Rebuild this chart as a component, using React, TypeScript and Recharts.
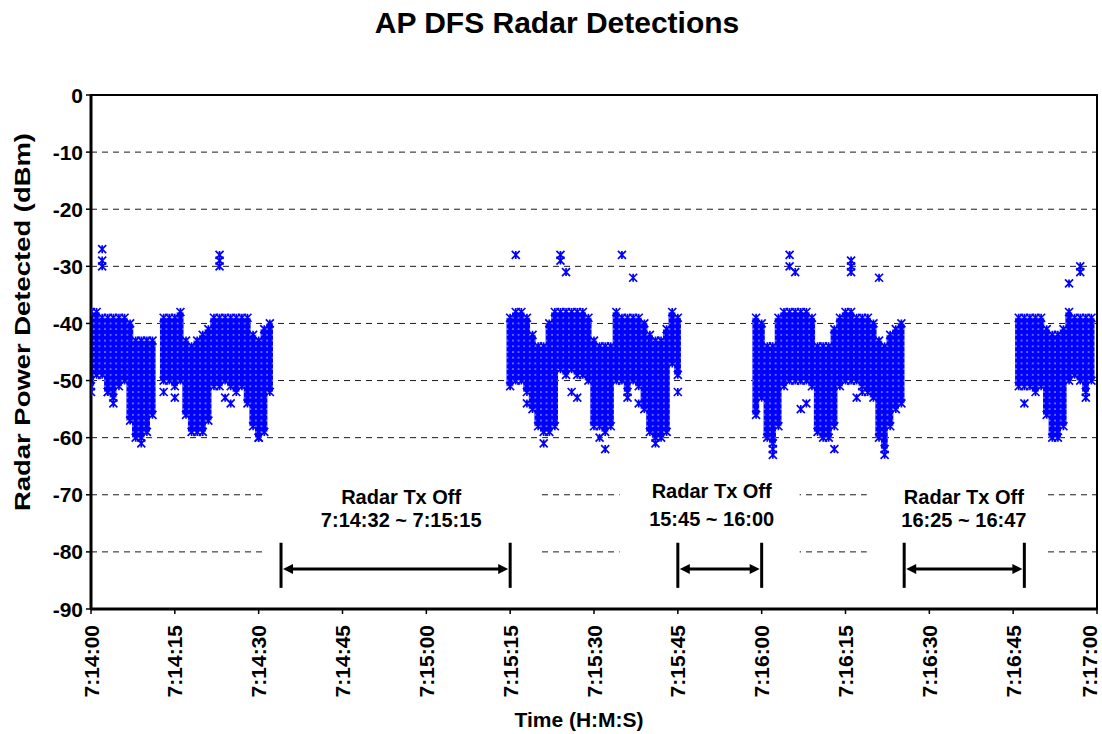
import React from 'react';
import {
  ComposedChart,
  Bar,
  Scatter,
  XAxis,
  YAxis,
  CartesianGrid,
  ReferenceArea,
  ReferenceLine
} from 'recharts';

const BLUE = '#0000ff';
const FONT = "'Liberation Sans', Arial, Helvetica, sans-serif";

// x = seconds after 7:14:00, y = dBm
// each burst is a run of 1-second columns: top and bottom of the detections
const burst1Sec = [0, 1, 2, 3, 4, 5, 6, 7, 8, 9, 10, 11, 13, 14, 15, 16, 17, 18, 19, 20, 21, 22, 23, 24, 25, 26, 27, 28, 29, 30, 31, 32];
const burst1Top = [-38, -38, -39, -39, -39, -39, -39, -40, -43, -43, -43, -43, -39, -39, -39, -38, -43, -44, -43, -42, -41, -39, -39, -39, -39, -39, -39, -39, -42, -43, -41, -40];
const burst1Bottom = [-51, -49, -49, -52, -53, -51, -50, -57, -60, -60, -59, -56, -50, -50, -51, -50, -56, -59, -59, -59, -57, -51, -51, -50, -51, -52, -51, -54, -58, -60, -59, -52];

const burst2Sec = [75, 76, 77, 78, 79, 80, 81, 82, 83, 84, 85, 86, 87, 88, 89, 90, 91, 92, 93, 94, 95, 96, 97, 98, 99, 100, 101, 102, 103, 104, 105];
const burst2Top = [-39, -38, -38, -39, -42, -44, -44, -40, -38, -38, -38, -38, -38, -38, -39, -43, -44, -44, -44, -38, -39, -39, -39, -39, -40, -42, -43, -43, -41, -38, -39];
const burst2Bottom = [-51, -50, -50, -52, -55, -58, -59, -59, -58, -48, -49, -48, -49, -49, -50, -58, -58, -59, -58, -50, -50, -52, -50, -51, -55, -59, -60, -60, -59, -47, -49];

const burst3Sec = [119, 120, 121, 122, 123, 124, 125, 126, 127, 128, 129, 130, 131, 132, 133, 134, 135, 136, 137, 138, 139, 140, 141, 142, 143, 144, 145];
const burst3Top = [-39, -40, -44, -44, -39, -38, -38, -38, -38, -38, -39, -44, -44, -44, -41, -39, -38, -38, -39, -39, -39, -40, -43, -44, -42, -41, -40];
const burst3Bottom = [-56, -53, -60, -61, -58, -51, -50, -50, -50, -50, -51, -59, -60, -60, -58, -51, -50, -50, -50, -51, -52, -53, -60, -62, -58, -55, -54];

const burst4Sec = [166, 167, 168, 169, 170, 171, 172, 173, 174, 175, 176, 177, 178, 179];
const burst4Top = [-39, -39, -39, -39, -39, -41, -42, -42, -41, -38, -39, -39, -39, -39];
const burst4Bottom = [-51, -51, -51, -52, -51, -56, -60, -60, -58, -50, -49, -50, -52, -50];

// stray detections away from the dense bands
const straySec = [2, 2, 2, 23, 23, 23, 0, 3, 4, 13, 15, 24, 25, 9, 30,
  76, 84, 84, 85, 95, 97, 81, 91, 92, 101, 78, 86, 87, 96, 98, 105,
  125, 125, 126, 136, 136, 136, 141, 122, 122, 133, 142, 127, 128, 137, 138,
  175, 177, 177, 167, 178];
const strayDbm = [-27, -29, -30, -28, -29, -30, -52, -52, -54, -52, -53, -53, -54, -61, -60,
  -28, -28, -29, -31, -28, -32, -61, -60, -62, -61, -54, -52, -53, -53, -54, -52,
  -28, -30, -31, -29, -30, -31, -32, -62, -63, -62, -63, -55, -54, -53, -52,
  -33, -30, -31, -54, -53];

const X_TICKS = [0, 15, 30, 45, 60, 75, 90, 105, 120, 135, 150, 165, 180];
const Y_TICKS = [0, -10, -20, -30, -40, -50, -60, -70, -80, -90];

// radar-off windows (seconds) and their captions
const offStart = [34, 105, 145.5];
const offEnd = [75, 120, 167];
const offCaption = ['7:14:32 ~ 7:15:15', '15:45 ~ 16:00', '16:25 ~ 16:47'];
const captionBoxFrom = [31, 94.6, 138.8];
const captionBoxTo = [80, 126.8, 170.7];

const buildColumns = (sec: number[], top: number[], bottom: number[]) =>
  sec.map((t, i) => ({ t, top: top[i], bottom: bottom[i], range: [bottom[i], top[i]] }));

const columns = [
  ...buildColumns(burst1Sec, burst1Top, burst1Bottom),
  ...buildColumns(burst2Sec, burst2Top, burst2Bottom),
  ...buildColumns(burst3Sec, burst3Top, burst3Bottom),
  ...buildColumns(burst4Sec, burst4Top, burst4Bottom)
];
const strays = straySec.map((t, i) => ({ t, y: strayDbm[i] }));

const clock = (s: number) => {
  const total = 14 * 60 + s;
  const m = Math.floor(total / 60);
  const sec = total % 60;
  return `7:${m}:${String(sec).padStart(2, '0')}`;
};

const textStyle = { fontFamily: FONT, fontWeight: 700, fill: '#000' };

function YTick({ x, y, payload }: any) {
  return (
    <text x={x} y={y} dy="0.36em" textAnchor="end" fontSize={21} {...textStyle}>
      {payload.value}
    </text>
  );
}

function XTick({ x, y, payload }: any) {
  // keep the last label inside the picture
  const tx = Math.min(x, 1089);
  return (
    <text
      x={tx}
      y={y}
      dy="0.36em"
      textAnchor="end"
      fontSize={21}
      transform={`rotate(-90 ${tx} ${y})`}
      {...textStyle}
    >
      {clock(payload.value)}
    </text>
  );
}

function YTitle() {
  return (
    <text
      x={30}
      y={322}
      textAnchor="middle"
      fontSize={22}
      textLength={378}
      lengthAdjust="spacingAndGlyphs"
      transform="rotate(-90 30 322)"
      {...textStyle}
    >
      Radar Power Detected (dBm)
    </text>
  );
}

function XTitle() {
  return (
    <text x={579} y={727} textAnchor="middle" fontSize={21} {...textStyle}>
      Time (H:M:S)
    </text>
  );
}

function Asterisk({ cx, cy }: any) {
  const r = 4;
  return (
    <path
      d={`M${cx - r},${cy - r}L${cx + r},${cy + r}M${cx - r},${cy + r}L${cx + r},${cy - r}M${cx},${cy - r}L${cx},${cy + r}`}
      stroke={BLUE}
      strokeWidth={1.7}
      fill="none"
    />
  );
}

function ColumnShape({ x, y, width, height }: any) {
  const cx = x + width / 2;
  return <rect x={cx - 3.4} y={y} width={6.8} height={Math.max(height, 0)} fill="url(#asteriskFill)" />;
}

function ArrowShape({ x1, y1, x2 }: any) {
  const left = Math.min(x1, x2) + 2;
  const right = Math.max(x1, x2) - 2;
  const y = y1;
  const head = 10;
  const half = 5;
  return (
    <g>
      <line x1={left + head - 1} y1={y} x2={right - head + 1} y2={y} stroke="#000" strokeWidth={3} />
      <polygon points={`${left},${y} ${left + head},${y - half} ${left + head},${y + half}`} fill="#000" />
      <polygon points={`${right},${y} ${right - head},${y - half} ${right - head},${y + half}`} fill="#000" />
    </g>
  );
}

// per-box text placement: [baseline of line 1, baseline of line 2, x shift]
const captionPlace = [
  [35, 58, 0],
  [29, 57, 2],
  [35, 58, 8]
];

function Caption({ viewBox, index }: any) {
  const { x, y, width } = viewBox;
  const [b1, b2, dx] = captionPlace[index];
  const cx = x + width / 2 + dx;
  return (
    <g>
      <text x={cx} y={y + b1} textAnchor="middle" fontSize={20} {...textStyle}>Radar Tx Off</text>
      <text x={cx} y={y + b2} textAnchor="middle" fontSize={20} {...textStyle}>{offCaption[index]}</text>
    </g>
  );
}

export default function App() {
  return (
    <div style={{ position: 'absolute', left: 0, top: 0, width: 1102, height: 734, background: '#fff' }}>
      <svg width={1102} height={50} style={{ position: 'absolute', left: 0, top: 0 }}>
        <text x={557} y={33} textAnchor="middle" fontSize={30} {...textStyle}>
          AP DFS Radar Detections
        </text>
      </svg>
      <div style={{ position: 'absolute', left: 0, top: 0 }}>
        <ComposedChart
          width={1102}
          height={734}
          data={columns}
          margin={{ top: 95, right: 5, bottom: 0, left: 0 }}
        >
          <defs>
            <pattern
              id="asteriskFill"
              patternUnits="userSpaceOnUse"
              width={5.589}
              height={5.711}
              patternTransform="translate(91 92.1)"
            >
              <rect width={6} height={6} fill={BLUE} />
              <rect x={1.9} y={2.45} width={1.8} height={0.9} fill="#fff" fillOpacity={0.9} />
            </pattern>
          </defs>
          <CartesianGrid vertical={false} stroke="#1a1a1a" strokeDasharray="6 5" />
          <XAxis
            type="number"
            dataKey="t"
            domain={[0, 180]}
            ticks={X_TICKS}
            interval={0}
            height={125}
            tickSize={5}
            tickMargin={11}
            axisLine={{ stroke: '#000', strokeWidth: 3 }}
            tickLine={{ stroke: '#000', strokeWidth: 1.5 }}
            tick={<XTick />}
            label={<XTitle />}
            allowDataOverflow
          />
          <YAxis
            type="number"
            domain={[-90, 0]}
            ticks={Y_TICKS}
            interval={0}
            width={91}
            tickSize={5}
            tickMargin={3}
            axisLine={{ stroke: '#000', strokeWidth: 3 }}
            tickLine={{ stroke: '#000', strokeWidth: 1.5 }}
            tick={<YTick />}
            label={<YTitle />}
            allowDataOverflow
          />
          {offStart.map((_, i) => (
            <ReferenceArea
              key={`box-${i}`}
              x1={captionBoxFrom[i]}
              x2={captionBoxTo[i]}
              y1={-81.3}
              y2={-65.5}
              fill="#fff"
              fillOpacity={1}
              stroke="none"
              ifOverflow="visible"
              label={<Caption index={i} />}
            />
          ))}
          <Bar dataKey="range" barSize={6} shape={<ColumnShape />} isAnimationActive={false} />
          <Scatter data={columns} dataKey="top" shape={<Asterisk />} isAnimationActive={false} />
          <Scatter data={columns} dataKey="bottom" shape={<Asterisk />} isAnimationActive={false} />
          <Scatter data={strays} dataKey="y" shape={<Asterisk />} isAnimationActive={false} />
          <ReferenceArea x1={0} x2={180} y1={-90} y2={0} fill="none" stroke="#000" strokeWidth={2} ifOverflow="visible" />
          {offStart.map((s, i) => (
            <ReferenceLine
              key={`l-${i}`}
              segment={[{ x: s, y: -78.4 }, { x: s, y: -86.3 }]}
              stroke="#000"
              strokeWidth={3}
            />
          ))}
          {offEnd.map((s, i) => (
            <ReferenceLine
              key={`r-${i}`}
              segment={[{ x: s, y: -78.4 }, { x: s, y: -86.3 }]}
              stroke="#000"
              strokeWidth={3}
            />
          ))}
          {offStart.map((s, i) => (
            <ReferenceLine
              key={`a-${i}`}
              segment={[{ x: s, y: -83 }, { x: offEnd[i], y: -83 }]}
              shape={<ArrowShape />}
            />
          ))}
        </ComposedChart>
      </div>
    </div>
  );
}
